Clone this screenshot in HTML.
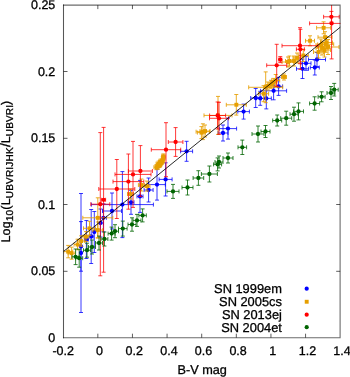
<!DOCTYPE html>
<html><head><meta charset="utf-8"><title>plot</title>
<style>
html,body{margin:0;padding:0;background:#fff;}
body{width:350px;height:377px;overflow:hidden;position:relative;font-family:"Liberation Sans",sans-serif;}
svg text,svg tspan,.tx{font-family:"Liberation Sans",sans-serif;text-rendering:geometricPrecision;}
</style></head><body>
<svg width="350" height="377" viewBox="0 0 350 377" style="position:absolute;left:0;top:0;will-change:transform;transform:translateZ(0)">
<defs><clipPath id="cp"><rect x="63.5" y="5" width="277" height="332.5"/></clipPath></defs>
<g clip-path="url(#cp)">
<path d="M81.0 193.5V312.5M79.0 193.5h4.0M79.0 312.5h4.0M81.0 221.6V271.2M79.0 221.6h4.0M79.0 271.2h4.0M86.4 220.5V258.5M84.4 220.5h4.0M84.4 258.5h4.0M84.4 239.5H88.4M84.4 237.5v4.0M88.4 237.5v4.0M91.2 209.5V263.5M89.2 209.5h4.0M89.2 263.5h4.0M89.2 236.5H93.2M89.2 234.5v4.0M93.2 234.5v4.0M94.3 211.5V252.5M92.3 211.5h4.0M92.3 252.5h4.0M100.5 209.0V237.0M98.5 209.0h4.0M98.5 237.0h4.0M97.5 223.0H103.5M97.5 221.0v4.0M103.5 221.0v4.0M103.4 203.8V231.8M101.4 203.8h4.0M101.4 231.8h4.0M100.4 217.8H106.4M100.4 215.8v4.0M106.4 215.8v4.0M112.0 193.0V229.0M110.0 193.0h4.0M110.0 229.0h4.0M102.5 211.0H121.5M102.5 209.0v4.0M121.5 209.0v4.0M122.4 171.6V237.6M120.4 171.6h4.0M120.4 237.6h4.0M91.4 204.6H153.4M91.4 202.6v4.0M153.4 202.6v4.0M131.0 190.3V214.3M129.0 190.3h4.0M129.0 214.3h4.0M128.0 202.3H134.0M128.0 200.3v4.0M134.0 200.3v4.0M140.0 180.4V212.4M138.0 180.4h4.0M138.0 212.4h4.0M137.0 196.4H143.0M137.0 194.4v4.0M143.0 194.4v4.0M148.6 178.0V202.0M146.6 178.0h4.0M146.6 202.0h4.0M144.1 190.0H153.1M144.1 188.0v4.0M153.1 188.0v4.0M157.0 169.1V200.1M155.0 169.1h4.0M155.0 200.1h4.0M148.7 184.6H165.3M148.7 182.6v4.0M165.3 182.6v4.0M165.6 162.8V196.0M163.6 162.8h4.0M163.6 196.0h4.0M159.1 179.4H172.1M159.1 177.4v4.0M172.1 177.4v4.0M186.6 141.3V161.3M184.6 141.3h4.0M184.6 161.3h4.0M180.6 151.3H192.6M180.6 149.3v4.0M192.6 149.3v4.0M223.0 125.0V141.0M221.0 125.0h4.0M221.0 141.0h4.0M218.0 133.0H228.0M218.0 131.0v4.0M228.0 131.0v4.0M228.0 118.1V139.1M226.0 118.1h4.0M226.0 139.1h4.0M219.4 128.6H236.6M219.4 126.6v4.0M236.6 126.6v4.0M243.6 104.1V119.1M241.6 104.1h4.0M241.6 119.1h4.0M237.8 111.6H249.4M237.8 109.6v4.0M249.4 109.6v4.0M255.7 88.5V107.5M253.7 88.5h4.0M253.7 107.5h4.0M250.7 98.0H260.7M250.7 96.0v4.0M260.7 96.0v4.0M260.2 91.3V105.3M258.2 91.3h4.0M258.2 105.3h4.0M256.2 98.3H264.2M256.2 96.3v4.0M264.2 96.3v4.0M266.3 87.9V108.9M264.3 87.9h4.0M264.3 108.9h4.0M261.3 98.4H271.3M261.3 96.4v4.0M271.3 96.4v4.0M273.6 81.8V99.8M271.6 81.8h4.0M271.6 99.8h4.0M260.6 90.8H286.6M260.6 88.8v4.0M286.6 88.8v4.0M278.6 77.4V95.4M276.6 77.4h4.0M276.6 95.4h4.0M274.6 86.4H282.6M274.6 84.4v4.0M282.6 84.4v4.0M302.5 59.1V78.5M300.5 59.1h4.0M300.5 78.5h4.0M296.5 68.8H308.5M296.5 66.8v4.0M308.5 66.8v4.0M306.0 56.3V70.3M304.0 56.3h4.0M304.0 70.3h4.0M301.0 63.3H311.0M301.0 61.3v4.0M311.0 61.3v4.0M314.8 60.0V75.0M312.8 60.0h4.0M312.8 75.0h4.0M310.3 67.5H319.3M310.3 65.5v4.0M319.3 65.5v4.0M317.0 52.5V66.5M315.0 52.5h4.0M315.0 66.5h4.0M308.5 59.5H325.5M308.5 57.5v4.0M325.5 57.5v4.0" stroke="#0000ff" stroke-width="1.0" stroke-opacity="0.78" fill="none"/>
<circle cx="81.0" cy="253.0" r="2.15" fill="#0000ff"/>
<circle cx="81.0" cy="246.4" r="2.15" fill="#0000ff"/>
<circle cx="86.4" cy="239.5" r="2.15" fill="#0000ff"/>
<circle cx="91.2" cy="236.5" r="2.15" fill="#0000ff"/>
<circle cx="94.3" cy="232.0" r="2.15" fill="#0000ff"/>
<circle cx="100.5" cy="223.0" r="2.15" fill="#0000ff"/>
<circle cx="103.4" cy="217.8" r="2.15" fill="#0000ff"/>
<circle cx="112.0" cy="211.0" r="2.15" fill="#0000ff"/>
<circle cx="122.4" cy="204.6" r="2.15" fill="#0000ff"/>
<circle cx="131.0" cy="202.3" r="2.15" fill="#0000ff"/>
<circle cx="140.0" cy="196.4" r="2.15" fill="#0000ff"/>
<circle cx="148.6" cy="190.0" r="2.15" fill="#0000ff"/>
<circle cx="157.0" cy="184.6" r="2.15" fill="#0000ff"/>
<circle cx="165.6" cy="179.4" r="2.15" fill="#0000ff"/>
<circle cx="186.6" cy="151.3" r="2.15" fill="#0000ff"/>
<circle cx="223.0" cy="133.0" r="2.15" fill="#0000ff"/>
<circle cx="228.0" cy="128.6" r="2.15" fill="#0000ff"/>
<circle cx="243.6" cy="111.6" r="2.15" fill="#0000ff"/>
<circle cx="255.7" cy="98.0" r="2.15" fill="#0000ff"/>
<circle cx="260.2" cy="98.3" r="2.15" fill="#0000ff"/>
<circle cx="266.3" cy="98.4" r="2.15" fill="#0000ff"/>
<circle cx="273.6" cy="90.8" r="2.15" fill="#0000ff"/>
<circle cx="278.6" cy="86.4" r="2.15" fill="#0000ff"/>
<circle cx="302.5" cy="68.8" r="2.15" fill="#0000ff"/>
<circle cx="306.0" cy="63.3" r="2.15" fill="#0000ff"/>
<circle cx="314.8" cy="67.5" r="2.15" fill="#0000ff"/>
<circle cx="317.0" cy="59.5" r="2.15" fill="#0000ff"/>
<path d="M68.2 245.4V257.8M66.2 245.4h4.0M66.2 257.8h4.0M63.7 251.6H72.7M63.7 249.6v4.0M72.7 249.6v4.0M71.6 247.2V259.2M69.6 247.2h4.0M69.6 259.2h4.0M68.1 253.2H75.1M68.1 251.2v4.0M75.1 251.2v4.0M77.6 239.2V249.8M75.6 239.2h4.0M75.6 249.8h4.0M74.1 244.5H81.1M74.1 242.5v4.0M81.1 242.5v4.0M81.2 235.8V246.2M79.2 235.8h4.0M79.2 246.2h4.0M77.7 241.0H84.7M77.7 239.0v4.0M84.7 239.0v4.0M86.0 231.6V241.6M84.0 231.6h4.0M84.0 241.6h4.0M83.0 236.6H89.0M83.0 234.6v4.0M89.0 234.6v4.0M89.5 221.3V235.3M87.5 221.3h4.0M87.5 235.3h4.0M83.5 228.3H95.5M83.5 226.3v4.0M95.5 226.3v4.0M97.8 222.0V238.0M95.8 222.0h4.0M95.8 238.0h4.0M92.8 230.0H102.8M92.8 228.0v4.0M102.8 228.0v4.0M97.8 197.8V237.8M95.8 197.8h4.0M95.8 237.8h4.0M82.8 217.8H112.8M82.8 215.8v4.0M112.8 215.8v4.0M130.5 189.0V199.0M128.5 189.0h4.0M128.5 199.0h4.0M127.5 194.0H133.5M127.5 192.0v4.0M133.5 192.0v4.0M141.4 179.0V191.0M139.4 179.0h4.0M139.4 191.0h4.0M138.4 185.0H144.4M138.4 183.0v4.0M144.4 183.0v4.0M147.0 181.1V191.1M145.0 181.1h4.0M145.0 191.1h4.0M144.0 186.1H150.0M144.0 184.1v4.0M150.0 184.1v4.0M156.4 164.7V169.7M154.4 164.7h4.0M154.4 169.7h4.0M153.9 167.2H158.9M153.9 165.2v4.0M158.9 165.2v4.0M158.0 163.2V169.2M156.0 163.2h4.0M156.0 169.2h4.0M156.0 166.2H160.0M156.0 164.2v4.0M160.0 164.2v4.0M159.6 162.5V167.5M157.6 162.5h4.0M157.6 167.5h4.0M157.6 165.0H161.6M157.6 163.0v4.0M161.6 163.0v4.0M158.6 161.1V166.1M156.6 161.1h4.0M156.6 166.1h4.0M156.1 163.6H161.1M156.1 161.6v4.0M161.1 161.6v4.0M160.8 160.7V165.7M158.8 160.7h4.0M158.8 165.7h4.0M158.8 163.2H162.8M158.8 161.2v4.0M162.8 161.2v4.0M162.0 159.1V164.1M160.0 159.1h4.0M160.0 164.1h4.0M160.0 161.6H164.0M160.0 159.6v4.0M164.0 159.6v4.0M160.6 159.1V164.1M158.6 159.1h4.0M158.6 164.1h4.0M158.6 161.6H162.6M158.6 159.6v4.0M162.6 159.6v4.0M162.8 156.6V162.6M160.8 156.6h4.0M160.8 162.6h4.0M161.3 159.6H164.3M161.3 157.6v4.0M164.3 157.6v4.0M163.3 155.3V160.3M161.3 155.3h4.0M161.3 160.3h4.0M161.8 157.8H164.8M161.8 155.8v4.0M164.8 155.8v4.0M163.4 153.9V158.9M161.4 153.9h4.0M161.4 158.9h4.0M161.9 156.4H164.9M161.9 154.4v4.0M164.9 154.4v4.0M202.9 123.8V139.6M200.9 123.8h4.0M200.9 139.6h4.0M196.1 131.7H209.7M196.1 129.7v4.0M209.7 129.7v4.0M201.4 126.6V138.6M199.4 126.6h4.0M199.4 138.6h4.0M197.4 132.6H205.4M197.4 130.6v4.0M205.4 130.6v4.0M205.0 125.0V137.0M203.0 125.0h4.0M203.0 137.0h4.0M200.0 131.0H210.0M200.0 129.0v4.0M210.0 129.0v4.0M218.0 96.4V134.4M216.0 96.4h4.0M216.0 134.4h4.0M204.0 115.4H232.0M204.0 113.4v4.0M232.0 113.4v4.0M236.3 94.5V115.1M234.3 94.5h4.0M234.3 115.1h4.0M226.3 104.8H246.3M226.3 102.8v4.0M246.3 102.8v4.0M265.7 71.9V102.7M263.7 71.9h4.0M263.7 102.7h4.0M248.7 87.3H282.7M248.7 85.3v4.0M282.7 85.3v4.0M263.6 85.7V101.7M261.6 85.7h4.0M261.6 101.7h4.0M258.6 93.7H268.6M258.6 91.7v4.0M268.6 91.7v4.0M275.7 74.5V86.5M273.7 74.5h4.0M273.7 86.5h4.0M271.7 80.5H279.7M271.7 78.5v4.0M279.7 78.5v4.0M268.0 82.0V90.0M266.0 82.0h4.0M266.0 90.0h4.0M265.0 86.0H271.0M265.0 84.0v4.0M271.0 84.0v4.0M271.0 80.3V88.3M269.0 80.3h4.0M269.0 88.3h4.0M268.0 84.3H274.0M268.0 82.3v4.0M274.0 82.3v4.0M273.4 78.4V86.4M271.4 78.4h4.0M271.4 86.4h4.0M270.4 82.4H276.4M270.4 80.4v4.0M276.4 80.4v4.0M284.0 74.0V80.0M282.0 74.0h4.0M282.0 80.0h4.0M281.5 77.0H286.5M281.5 75.0v4.0M286.5 75.0v4.0M288.0 57.0V67.0M286.0 57.0h4.0M286.0 67.0h4.0M282.0 62.0H294.0M282.0 60.0v4.0M294.0 60.0v4.0M289.5 56.0V66.0M287.5 56.0h4.0M287.5 66.0h4.0M285.5 61.0H293.5M285.5 59.0v4.0M293.5 59.0v4.0M294.0 56.0V66.0M292.0 56.0h4.0M292.0 66.0h4.0M290.0 61.0H298.0M290.0 59.0v4.0M298.0 59.0v4.0M297.0 53.0V63.0M295.0 53.0h4.0M295.0 63.0h4.0M293.0 58.0H301.0M293.0 56.0v4.0M301.0 56.0v4.0M303.3 49.5V61.5M301.3 49.5h4.0M301.3 61.5h4.0M298.3 55.5H308.3M298.3 53.5v4.0M308.3 53.5v4.0M310.0 35.8V45.8M308.0 35.8h4.0M308.0 45.8h4.0M305.5 40.8H314.5M305.5 38.8v4.0M314.5 38.8v4.0M323.6 21.8V33.8M321.6 21.8h4.0M321.6 33.8h4.0M316.6 27.8H330.6M316.6 25.8v4.0M330.6 25.8v4.0M325.0 31.7V42.7M323.0 31.7h4.0M323.0 42.7h4.0M318.0 37.2H332.0M318.0 35.2v4.0M332.0 35.2v4.0M325.7 36.3V52.3M323.7 36.3h4.0M323.7 52.3h4.0M317.7 44.3H333.7M317.7 42.3v4.0M333.7 42.3v4.0M322.0 41.0V55.0M320.0 41.0h4.0M320.0 55.0h4.0M316.0 48.0H328.0M316.0 46.0v4.0M328.0 46.0v4.0M328.0 39.5V54.5M326.0 39.5h4.0M326.0 54.5h4.0M317.0 47.0H339.0M317.0 45.0v4.0M339.0 45.0v4.0M318.5 46.0V58.0M316.5 46.0h4.0M316.5 58.0h4.0M313.5 52.0H323.5M313.5 50.0v4.0M323.5 50.0v4.0M324.5 43.0V57.0M322.5 43.0h4.0M322.5 57.0h4.0M318.5 50.0H330.5M318.5 48.0v4.0M330.5 48.0v4.0M326.5 36.5V48.5M324.5 36.5h4.0M324.5 48.5h4.0M320.5 42.5H332.5M320.5 40.5v4.0M332.5 40.5v4.0M321.0 39.0V51.0M319.0 39.0h4.0M319.0 51.0h4.0M316.0 45.0H326.0M316.0 43.0v4.0M326.0 43.0v4.0" stroke="#e69f00" stroke-width="1.0" stroke-opacity="0.85" fill="none"/>
<rect x="66.2" y="249.7" width="3.9" height="3.9" fill="#e69f00"/>
<rect x="69.6" y="251.2" width="3.9" height="3.9" fill="#e69f00"/>
<rect x="75.6" y="242.6" width="3.9" height="3.9" fill="#e69f00"/>
<rect x="79.2" y="239.1" width="3.9" height="3.9" fill="#e69f00"/>
<rect x="84.0" y="234.7" width="3.9" height="3.9" fill="#e69f00"/>
<rect x="87.5" y="226.4" width="3.9" height="3.9" fill="#e69f00"/>
<rect x="95.8" y="228.1" width="3.9" height="3.9" fill="#e69f00"/>
<rect x="95.8" y="215.9" width="3.9" height="3.9" fill="#e69f00"/>
<rect x="128.6" y="192.1" width="3.9" height="3.9" fill="#e69f00"/>
<rect x="139.5" y="183.1" width="3.9" height="3.9" fill="#e69f00"/>
<rect x="145.1" y="184.2" width="3.9" height="3.9" fill="#e69f00"/>
<rect x="154.5" y="165.2" width="3.9" height="3.9" fill="#e69f00"/>
<rect x="156.1" y="164.2" width="3.9" height="3.9" fill="#e69f00"/>
<rect x="157.7" y="163.1" width="3.9" height="3.9" fill="#e69f00"/>
<rect x="156.7" y="161.7" width="3.9" height="3.9" fill="#e69f00"/>
<rect x="158.9" y="161.2" width="3.9" height="3.9" fill="#e69f00"/>
<rect x="160.1" y="159.7" width="3.9" height="3.9" fill="#e69f00"/>
<rect x="158.7" y="159.7" width="3.9" height="3.9" fill="#e69f00"/>
<rect x="160.9" y="157.7" width="3.9" height="3.9" fill="#e69f00"/>
<rect x="161.4" y="155.9" width="3.9" height="3.9" fill="#e69f00"/>
<rect x="161.5" y="154.5" width="3.9" height="3.9" fill="#e69f00"/>
<rect x="201.0" y="129.8" width="3.9" height="3.9" fill="#e69f00"/>
<rect x="199.5" y="130.7" width="3.9" height="3.9" fill="#e69f00"/>
<rect x="203.1" y="129.1" width="3.9" height="3.9" fill="#e69f00"/>
<rect x="216.1" y="113.5" width="3.9" height="3.9" fill="#e69f00"/>
<rect x="234.4" y="102.8" width="3.9" height="3.9" fill="#e69f00"/>
<rect x="263.8" y="85.3" width="3.9" height="3.9" fill="#e69f00"/>
<rect x="261.7" y="91.8" width="3.9" height="3.9" fill="#e69f00"/>
<rect x="273.8" y="78.5" width="3.9" height="3.9" fill="#e69f00"/>
<rect x="266.1" y="84.0" width="3.9" height="3.9" fill="#e69f00"/>
<rect x="269.1" y="82.3" width="3.9" height="3.9" fill="#e69f00"/>
<rect x="271.4" y="80.5" width="3.9" height="3.9" fill="#e69f00"/>
<rect x="282.1" y="75.0" width="3.9" height="3.9" fill="#e69f00"/>
<rect x="286.1" y="60.0" width="3.9" height="3.9" fill="#e69f00"/>
<rect x="287.6" y="59.0" width="3.9" height="3.9" fill="#e69f00"/>
<rect x="292.1" y="59.0" width="3.9" height="3.9" fill="#e69f00"/>
<rect x="295.1" y="56.0" width="3.9" height="3.9" fill="#e69f00"/>
<rect x="301.4" y="53.5" width="3.9" height="3.9" fill="#e69f00"/>
<rect x="308.1" y="38.8" width="3.9" height="3.9" fill="#e69f00"/>
<rect x="321.7" y="25.9" width="3.9" height="3.9" fill="#e69f00"/>
<rect x="323.1" y="35.2" width="3.9" height="3.9" fill="#e69f00"/>
<rect x="323.8" y="42.3" width="3.9" height="3.9" fill="#e69f00"/>
<rect x="320.1" y="46.0" width="3.9" height="3.9" fill="#e69f00"/>
<rect x="326.1" y="45.0" width="3.9" height="3.9" fill="#e69f00"/>
<rect x="316.6" y="50.0" width="3.9" height="3.9" fill="#e69f00"/>
<rect x="322.6" y="48.0" width="3.9" height="3.9" fill="#e69f00"/>
<rect x="324.6" y="40.5" width="3.9" height="3.9" fill="#e69f00"/>
<rect x="319.1" y="43.0" width="3.9" height="3.9" fill="#e69f00"/>
<path d="M100.3 132.6V275.8M98.3 132.6h4.0M98.3 275.8h4.0M90.8 204.2H109.8M90.8 202.2v4.0M109.8 202.2v4.0M103.6 127.4V272.2M101.6 127.4h4.0M101.6 272.2h4.0M101.6 199.8H105.6M101.6 197.8v4.0M105.6 197.8v4.0M116.8 159.5V218.5M114.8 159.5h4.0M114.8 218.5h4.0M98.8 189.0H134.8M98.8 187.0v4.0M134.8 187.0v4.0M128.4 154.0V209.2M126.4 154.0h4.0M126.4 209.2h4.0M113.0 181.6H143.8M113.0 179.6v4.0M143.8 179.6v4.0M133.0 141.4V207.4M131.0 141.4h4.0M131.0 207.4h4.0M115.0 174.4H151.0M115.0 172.4v4.0M151.0 172.4v4.0M140.4 145.6V196.4M138.4 145.6h4.0M138.4 196.4h4.0M128.4 171.0H152.4M128.4 169.0v4.0M152.4 169.0v4.0M166.0 122.7V176.7M164.0 122.7h4.0M164.0 176.7h4.0M151.3 149.7H180.7M151.3 147.7v4.0M180.7 147.7v4.0M175.6 127.6V156.4M173.6 127.6h4.0M173.6 156.4h4.0M168.3 142.0H182.9M168.3 140.0v4.0M182.9 140.0v4.0M217.6 102.0V129.0M215.6 102.0h4.0M215.6 129.0h4.0M209.6 115.5H225.6M209.6 113.5v4.0M225.6 113.5v4.0M219.0 102.3V134.3M217.0 102.3h4.0M217.0 134.3h4.0M209.5 118.3H228.5M209.5 116.3v4.0M228.5 116.3v4.0M276.7 44.3V86.3M274.7 44.3h4.0M274.7 86.3h4.0M266.7 65.3H286.7M266.7 63.3v4.0M286.7 63.3v4.0M280.3 56.6V62.6M278.3 56.6h4.0M278.3 62.6h4.0M278.8 59.6H281.8M278.8 57.6v4.0M281.8 57.6v4.0M300.0 27.7V63.7M298.0 27.7h4.0M298.0 63.7h4.0M282.0 45.7H318.0M282.0 43.7v4.0M318.0 43.7v4.0M300.4 29.3V69.3M298.4 29.3h4.0M298.4 69.3h4.0M296.4 49.3H304.4M296.4 47.3v4.0M304.4 47.3v4.0M331.4 11.4V22.2M329.4 11.4h4.0M329.4 22.2h4.0M323.6 16.8H339.2M323.6 14.8v4.0M339.2 14.8v4.0M331.6 -2.0V58.9M329.6 -2.0h4.0M329.6 58.9h4.0M309.6 23.4H353.6M309.6 21.4v4.0M353.6 21.4v4.0" stroke="#ff0000" stroke-width="1.0" stroke-opacity="0.78" fill="none"/>
<circle cx="100.3" cy="204.2" r="2.15" fill="#ff0000"/>
<circle cx="103.6" cy="199.8" r="2.15" fill="#ff0000"/>
<circle cx="116.8" cy="189.0" r="2.15" fill="#ff0000"/>
<circle cx="128.4" cy="181.6" r="2.15" fill="#ff0000"/>
<circle cx="133.0" cy="174.4" r="2.15" fill="#ff0000"/>
<circle cx="140.4" cy="171.0" r="2.15" fill="#ff0000"/>
<circle cx="166.0" cy="149.7" r="2.15" fill="#ff0000"/>
<circle cx="175.6" cy="142.0" r="2.15" fill="#ff0000"/>
<circle cx="217.6" cy="115.5" r="2.15" fill="#ff0000"/>
<circle cx="219.0" cy="118.3" r="2.15" fill="#ff0000"/>
<circle cx="276.7" cy="65.3" r="2.15" fill="#ff0000"/>
<circle cx="280.3" cy="59.6" r="2.15" fill="#ff0000"/>
<circle cx="300.0" cy="45.7" r="2.15" fill="#ff0000"/>
<circle cx="300.4" cy="49.3" r="2.15" fill="#ff0000"/>
<circle cx="331.4" cy="16.8" r="2.15" fill="#ff0000"/>
<circle cx="331.6" cy="23.4" r="2.15" fill="#ff0000"/>
<path d="M75.6 249.0V264.6M73.6 249.0h4.0M73.6 264.6h4.0M72.1 256.8H79.1M72.1 254.8v4.0M79.1 254.8v4.0M79.2 249.2V267.2M77.2 249.2h4.0M77.2 267.2h4.0M75.7 258.2H82.7M75.7 256.2v4.0M82.7 256.2v4.0M87.0 243.2V257.2M85.0 243.2h4.0M85.0 257.2h4.0M83.5 250.2H90.5M83.5 248.2v4.0M90.5 248.2v4.0M92.0 240.0V254.0M90.0 240.0h4.0M90.0 254.0h4.0M88.5 247.0H95.5M88.5 245.0v4.0M95.5 245.0v4.0M99.0 236.0V250.0M97.0 236.0h4.0M97.0 250.0h4.0M95.5 243.0H102.5M95.5 241.0v4.0M102.5 241.0v4.0M104.4 232.0V246.0M102.4 232.0h4.0M102.4 246.0h4.0M100.9 239.0H107.9M100.9 237.0v4.0M107.9 237.0v4.0M111.6 227.1V240.1M109.6 227.1h4.0M109.6 240.1h4.0M108.1 233.6H115.1M108.1 231.6v4.0M115.1 231.6v4.0M115.0 224.7V237.7M113.0 224.7h4.0M113.0 237.7h4.0M111.5 231.2H118.5M111.5 229.2v4.0M118.5 229.2v4.0M122.8 221.1V236.1M120.8 221.1h4.0M120.8 236.1h4.0M118.5 228.6H127.1M118.5 226.6v4.0M127.1 226.6v4.0M132.0 217.8V231.2M130.0 217.8h4.0M130.0 231.2h4.0M128.0 224.5H136.0M128.0 222.5v4.0M136.0 222.5v4.0M137.0 214.4V226.4M135.0 214.4h4.0M135.0 226.4h4.0M133.0 220.4H141.0M133.0 218.4v4.0M141.0 218.4v4.0M142.6 208.9V221.9M140.6 208.9h4.0M140.6 221.9h4.0M138.9 215.4H146.3M138.9 213.4v4.0M146.3 213.4v4.0M173.0 184.4V198.4M171.0 184.4h4.0M171.0 198.4h4.0M167.0 191.4H179.0M167.0 189.4v4.0M179.0 189.4v4.0M187.5 180.0V195.0M185.5 180.0h4.0M185.5 195.0h4.0M182.0 187.5H193.0M182.0 185.5v4.0M193.0 185.5v4.0M198.4 170.7V185.3M196.4 170.7h4.0M196.4 185.3h4.0M193.1 178.0H203.7M193.1 176.0v4.0M203.7 176.0v4.0M209.4 166.0V182.0M207.4 166.0h4.0M207.4 182.0h4.0M201.4 174.0H217.4M201.4 172.0v4.0M217.4 172.0v4.0M217.6 157.9V170.9M215.6 157.9h4.0M215.6 170.9h4.0M213.6 164.4H221.6M213.6 162.4v4.0M221.6 162.4v4.0M219.0 156.0V168.0M217.0 156.0h4.0M217.0 168.0h4.0M215.0 162.0H223.0M215.0 160.0v4.0M223.0 160.0v4.0M228.0 153.0V163.0M226.0 153.0h4.0M226.0 163.0h4.0M223.0 158.0H233.0M223.0 156.0v4.0M233.0 156.0v4.0M242.3 140.1V154.5M240.3 140.1h4.0M240.3 154.5h4.0M238.0 147.3H246.6M238.0 145.3v4.0M246.6 145.3v4.0M258.0 126.0V142.0M256.0 126.0h4.0M256.0 142.0h4.0M252.0 134.0H264.0M252.0 132.0v4.0M264.0 132.0v4.0M265.5 125.5V137.5M263.5 125.5h4.0M263.5 137.5h4.0M261.0 131.5H270.0M261.0 129.5v4.0M270.0 129.5v4.0M277.2 115.0V126.0M275.2 115.0h4.0M275.2 126.0h4.0M272.7 120.5H281.7M272.7 118.5v4.0M281.7 118.5v4.0M286.2 111.2V125.2M284.2 111.2h4.0M284.2 125.2h4.0M280.7 118.2H291.7M280.7 116.2v4.0M291.7 116.2v4.0M294.0 107.2V121.2M292.0 107.2h4.0M292.0 121.2h4.0M290.0 114.2H298.0M290.0 112.2v4.0M298.0 112.2v4.0M298.5 102.9V119.9M296.5 102.9h4.0M296.5 119.9h4.0M293.5 111.4H303.5M293.5 109.4v4.0M303.5 109.4v4.0M314.6 96.8V110.2M312.6 96.8h4.0M312.6 110.2h4.0M309.6 103.5H319.6M309.6 101.5v4.0M319.6 101.5v4.0M321.6 91.8V101.8M319.6 91.8h4.0M319.6 101.8h4.0M318.1 96.8H325.1M318.1 94.8v4.0M325.1 94.8v4.0M331.0 86.5V99.5M329.0 86.5h4.0M329.0 99.5h4.0M327.0 93.0H335.0M327.0 91.0v4.0M335.0 91.0v4.0M334.2 83.4V96.0M332.2 83.4h4.0M332.2 96.0h4.0M330.2 89.7H338.2M330.2 87.7v4.0M338.2 87.7v4.0" stroke="#006400" stroke-width="1.0" stroke-opacity="0.8" fill="none"/>
<circle cx="75.6" cy="256.8" r="2.15" fill="#006400"/>
<circle cx="79.2" cy="258.2" r="2.15" fill="#006400"/>
<circle cx="87.0" cy="250.2" r="2.15" fill="#006400"/>
<circle cx="92.0" cy="247.0" r="2.15" fill="#006400"/>
<circle cx="99.0" cy="243.0" r="2.15" fill="#006400"/>
<circle cx="104.4" cy="239.0" r="2.15" fill="#006400"/>
<circle cx="111.6" cy="233.6" r="2.15" fill="#006400"/>
<circle cx="115.0" cy="231.2" r="2.15" fill="#006400"/>
<circle cx="122.8" cy="228.6" r="2.15" fill="#006400"/>
<circle cx="132.0" cy="224.5" r="2.15" fill="#006400"/>
<circle cx="137.0" cy="220.4" r="2.15" fill="#006400"/>
<circle cx="142.6" cy="215.4" r="2.15" fill="#006400"/>
<circle cx="173.0" cy="191.4" r="2.15" fill="#006400"/>
<circle cx="187.5" cy="187.5" r="2.15" fill="#006400"/>
<circle cx="198.4" cy="178.0" r="2.15" fill="#006400"/>
<circle cx="209.4" cy="174.0" r="2.15" fill="#006400"/>
<circle cx="217.6" cy="164.4" r="2.15" fill="#006400"/>
<circle cx="219.0" cy="162.0" r="2.15" fill="#006400"/>
<circle cx="228.0" cy="158.0" r="2.15" fill="#006400"/>
<circle cx="242.3" cy="147.3" r="2.15" fill="#006400"/>
<circle cx="258.0" cy="134.0" r="2.15" fill="#006400"/>
<circle cx="265.5" cy="131.5" r="2.15" fill="#006400"/>
<circle cx="277.2" cy="120.5" r="2.15" fill="#006400"/>
<circle cx="286.2" cy="118.2" r="2.15" fill="#006400"/>
<circle cx="294.0" cy="114.2" r="2.15" fill="#006400"/>
<circle cx="298.5" cy="111.4" r="2.15" fill="#006400"/>
<circle cx="314.6" cy="103.5" r="2.15" fill="#006400"/>
<circle cx="321.6" cy="96.8" r="2.15" fill="#006400"/>
<circle cx="331.0" cy="93.0" r="2.15" fill="#006400"/>
<circle cx="334.2" cy="89.7" r="2.15" fill="#006400"/>
<path d="M63.5 251.5L340.5 27" stroke="#000" stroke-width="0.85" fill="none"/>
</g>
<path d="M63.5 4.6V338.3" fill="none" stroke="#000" stroke-opacity="0.66" stroke-width="1.05"/><path d="M340.1 4.6V338.3M63 5.1H340.6M63 337.8H340.6" fill="none" stroke="#000" stroke-opacity="0.58" stroke-width="1.1"/>
<path d="M97.83 337.7v-4M97.83 5.1v4M132.45 337.7v-4M132.45 5.1v4M167.07 337.7v-4M167.07 5.1v4M201.70 337.7v-4M201.70 5.1v4M236.32 337.7v-4M236.32 5.1v4M270.95 337.7v-4M270.95 5.1v4M305.57 337.7v-4M305.57 5.1v4M63.5 271.30h4M340.2 271.30h-4M63.5 204.50h4M340.2 204.50h-4M63.5 138.30h4M340.2 138.30h-4M63.5 71.50h4M340.2 71.50h-4" stroke="#000" stroke-opacity="0.8" stroke-width="0.8" fill="none"/>
<circle cx="306.7" cy="288.7" r="2.1" fill="#0000ff"/>
<rect x="304.75" y="299.8" width="3.9" height="3.9" fill="#e69f00"/>
<circle cx="306.7" cy="314.7" r="2.1" fill="#ff0000"/>
<circle cx="306.7" cy="327.2" r="2.1" fill="#006400"/>
<g class="tx" fill="#000" stroke="#000" stroke-width="0.3">
<text x="63.2" y="354.8" text-anchor="middle" font-size="12.5" >-0.2</text>
<text x="99.6" y="354.8" text-anchor="middle" font-size="12.5" >0</text>
<text x="134.2" y="354.8" text-anchor="middle" font-size="12.5" >0.2</text>
<text x="168.9" y="354.8" text-anchor="middle" font-size="12.5" >0.4</text>
<text x="203.5" y="354.8" text-anchor="middle" font-size="12.5" >0.6</text>
<text x="238.1" y="354.8" text-anchor="middle" font-size="12.5" >0.8</text>
<text x="272.8" y="354.8" text-anchor="middle" font-size="12.5" >1</text>
<text x="307.4" y="354.8" text-anchor="middle" font-size="12.5" >1.2</text>
<text x="342.0" y="354.8" text-anchor="middle" font-size="12.5" >1.4</text>
<text x="55.3" y="341.9" text-anchor="end" font-size="12.5" >0</text>
<text x="55.3" y="275.4" text-anchor="end" font-size="12.5" >0.05</text>
<text x="55.3" y="208.8" text-anchor="end" font-size="12.5" >0.1</text>
<text x="55.3" y="142.3" text-anchor="end" font-size="12.5" >0.15</text>
<text x="55.3" y="75.8" text-anchor="end" font-size="12.5" >0.2</text>
<text x="55.3" y="9.3" text-anchor="end" font-size="12.5" >0.25</text>
<text x="202.2" y="373.6" text-anchor="middle" font-size="12.7" >B-V mag</text>
<text x="281.9" y="293.3" text-anchor="end" font-size="12.85" >SN 1999em</text>
<text x="281.9" y="306.1" text-anchor="end" font-size="12.85" >SN 2005cs</text>
<text x="281.9" y="318.8" text-anchor="end" font-size="12.85" >SN 2013ej</text>
<text x="281.9" y="331.7" text-anchor="end" font-size="12.85" >SN 2004et</text>
<text transform="translate(9.95,242.5) rotate(-90)" font-size="12.5" textLength="95.1" lengthAdjust="spacing">Log<tspan font-size="10" dy="3">10</tspan><tspan dy="-3">(L</tspan><tspan font-size="10" dy="3">UBVRIJHK</tspan></text>
<text transform="translate(9.7,147.1) rotate(-90)" font-size="14.5">/</text>
<text transform="translate(9.95,143.2) rotate(-90)" font-size="12.5" textLength="42.4" lengthAdjust="spacing">L<tspan font-size="10" dy="3">UBVRI</tspan><tspan dy="-3">)</tspan></text>
</g>
</svg>
</body></html>
